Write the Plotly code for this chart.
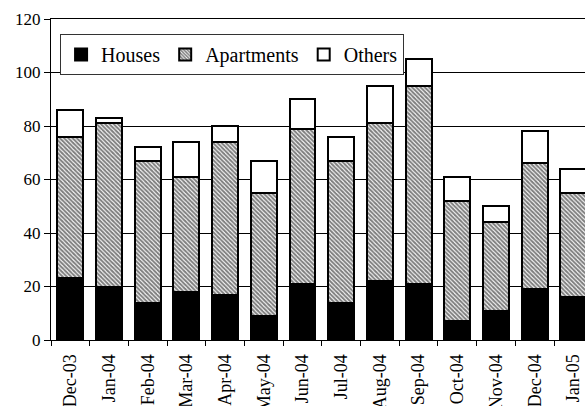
import plotly.graph_objects as go

# -- Data ---------------------------------------------------------------------
months     = ["Dec-03", "Jan-04", "Feb-04", "Mar-04", "Apr-04", "May-04", "Jun-04",
              "Jul-04", "Aug-04", "Sep-04", "Oct-04", "Nov-04", "Dec-04", "Jan-05"]
houses     = [23, 20, 14, 18, 17, 9, 21, 14, 22, 21, 7, 11, 19, 16]
apartments = [53, 61, 53, 43, 57, 46, 58, 53, 59, 74, 45, 33, 47, 39]
others     = [10, 2, 5, 13, 6, 12, 11, 9, 14, 10, 9, 6, 12, 9]

_FONT = "Liberation Serif, Times New Roman, serif"
_LINE = dict(color="black", width=2)

fig = go.Figure()
fig.add_trace(go.Bar(
    x=months, y=houses, name="Houses",
    marker=dict(color="black", line=_LINE),
))
fig.add_trace(go.Bar(
    x=months, y=apartments, name="Apartments",
    marker=dict(
        color="white", line=_LINE,
        pattern=dict(shape="\\", fgcolor="black", bgcolor="white",
                     size=3, solidity=0.65),
    ),
))
fig.add_trace(go.Bar(
    x=months, y=others, name="Others",
    marker=dict(color="white", line=_LINE),
))

fig.update_layout(
    width=585, height=406,
    barmode="stack", bargap=0.33,
    paper_bgcolor="white", plot_bgcolor="white",
    font=dict(family=_FONT, size=17, color="black"),
    margin=dict(l=51, r=0, t=19, b=66),
    legend=dict(
        orientation="h",
        x=0.017, y=0.953, xanchor="left", yanchor="top",
        bgcolor="white", bordercolor="#333", borderwidth=1,
        font=dict(family=_FONT, size=20, color="black"),
        traceorder="normal",
    ),
    xaxis=dict(
        type="category", range=[-0.5, 13.3],
        showline=True, mirror=True, linecolor="black", linewidth=1,
        ticks="outside", tickson="boundaries", ticklen=5, tickcolor="black",
        tickangle=-90, automargin=False, showgrid=False,
        tickfont=dict(family=_FONT, size=18), ticklabelstandoff=6,
    ),
    yaxis=dict(
        range=[0, 120], dtick=20,
        showline=True, linecolor="black", linewidth=1,
        ticks="outside", ticklen=6, tickcolor="black",
        showgrid=True, gridcolor="black", gridwidth=1,
        zeroline=False, automargin=False,
        tickfont=dict(family=_FONT, size=17),
    ),
)

# drop the browser's default body margin so the chart sits at the page corner
fig.write_html(
    "out.html",
    config={"displayModeBar": False},
    post_script="document.body.style.margin='0';document.body.style.overflow='hidden';",
)
